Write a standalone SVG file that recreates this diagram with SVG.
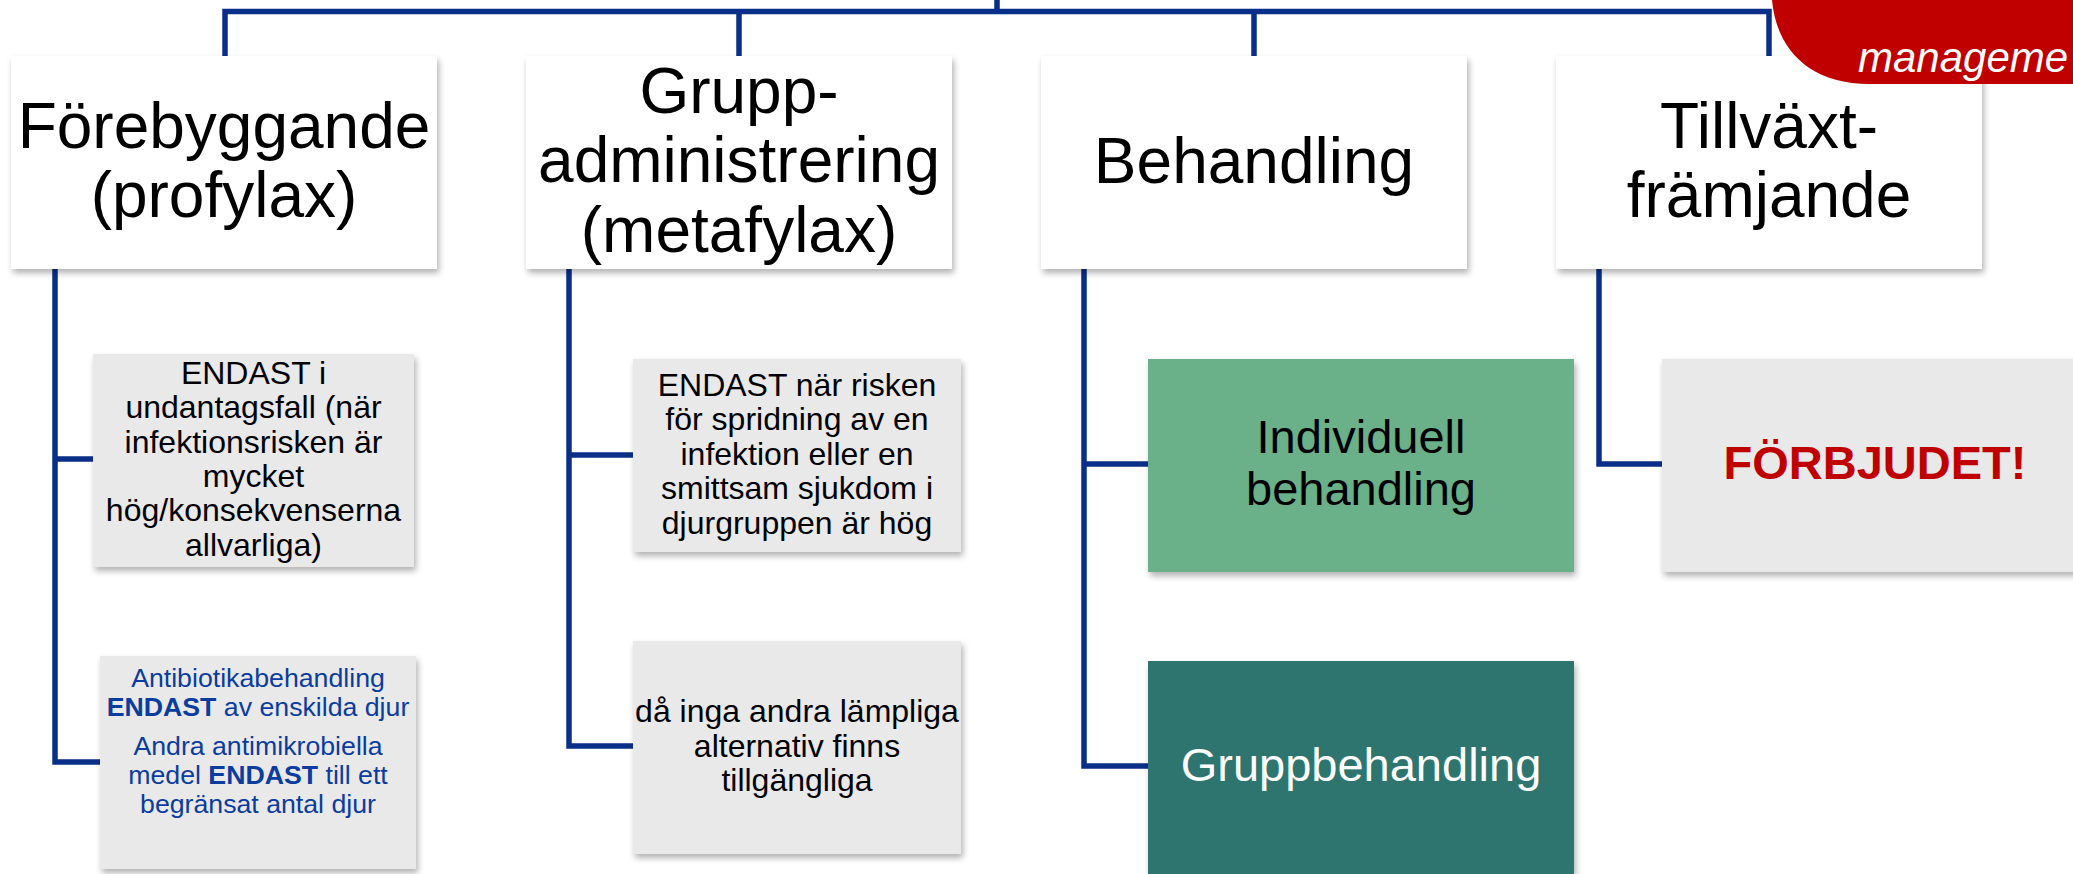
<svg xmlns="http://www.w3.org/2000/svg" width="2073" height="874" viewBox="0 0 2073 874">
<defs>
<filter id="sh" x="-5%" y="-5%" width="115%" height="120%">
<feDropShadow dx="2" dy="4" stdDeviation="3" flood-color="#000" flood-opacity="0.3"/>
</filter>
<style>
.ln{fill:none;stroke:#0a2f88;stroke-width:5.5;stroke-linecap:square}
.top{fill:#ffffff;filter:url(#sh)}
.gray{fill:#e9e9e9;filter:url(#sh)}
.t64{font-family:"Liberation Sans",Arial,sans-serif;font-size:64px;fill:#000;text-anchor:middle}
.t32{font-family:"Liberation Sans",Arial,sans-serif;font-size:32px;fill:#000;text-anchor:middle}
.t27{font-family:"Liberation Sans",Arial,sans-serif;font-size:26.7px;fill:#0b3c9f;text-anchor:middle}
.t47{font-family:"Liberation Sans",Arial,sans-serif;font-size:47px;text-anchor:middle}
</style>
</defs>
<rect width="2073" height="874" fill="#ffffff"/>
<g id="connectors">
<path class="ln" d="M997,0 V11.5 M225,40 V11.5 H1769 V56 M739,11.5 V56 M1254,11.5 V56 M225,11.5 V56"/>
<path class="ln" d="M55,269 V762 H100 M55,459 H93"/>
<path class="ln" d="M569,269 V746 H633 M569,455 H633"/>
<path class="ln" d="M1084,269 V766 H1148 M1084,464 H1148"/>
<path class="ln" d="M1599,269 V464 H1662"/>
</g>
<g id="n-forebyggande">
<rect class="top" x="11" y="56" width="426" height="213"/>
<text class="t64" x="224" y="148">Förebyggande</text>
<text class="t64" x="224" y="217">(profylax)</text>
</g>
<g id="n-grupp">
<rect class="top" x="526" y="56" width="426" height="213"/>
<text class="t64" x="739" y="113">Grupp-</text>
<text class="t64" x="739" y="182">administrering</text>
<text class="t64" x="739" y="252">(metafylax)</text>
</g>
<g id="n-behandling">
<rect class="top" x="1041" y="56" width="426" height="213"/>
<text class="t64" x="1254" y="183">Behandling</text>
</g>
<g id="n-tillvaxt">
<rect class="top" x="1556" y="56" width="426" height="213"/>
<text class="t64" x="1769" y="148">Tillväxt-</text>
<text class="t64" x="1769" y="217">främjande</text>
</g>
<g id="n-endast-undantag">
<rect class="gray" x="93" y="354" width="321" height="213"/>
<text class="t32" x="253.5" y="384">ENDAST i</text>
<text class="t32" x="253.5" y="418.3">undantagsfall (när</text>
<text class="t32" x="253.5" y="452.6">infektionsrisken är</text>
<text class="t32" x="253.5" y="486.9">mycket</text>
<text class="t32" x="253.5" y="521.2">hög/konsekvenserna</text>
<text class="t32" x="253.5" y="555.5">allvarliga)</text>
</g>
<g id="n-antibiotika">
<rect class="gray" x="100" y="656" width="316" height="213"/>
<text class="t27" x="258" y="687">Antibiotikabehandling</text>
<text class="t27" x="258" y="716"><tspan font-weight="bold">ENDAST</tspan> av enskilda djur</text>
<text class="t27" x="258" y="755">Andra antimikrobiella</text>
<text class="t27" x="258" y="784">medel <tspan font-weight="bold">ENDAST</tspan> till ett</text>
<text class="t27" x="258" y="813">begränsat antal djur</text>
</g>
<g id="n-endast-risken">
<rect class="gray" x="633" y="359" width="328" height="193"/>
<text class="t32" x="797" y="396">ENDAST när risken</text>
<text class="t32" x="797" y="430.4">för spridning av en</text>
<text class="t32" x="797" y="464.8">infektion eller en</text>
<text class="t32" x="797" y="499.2">smittsam sjukdom i</text>
<text class="t32" x="797" y="533.6">djurgruppen är hög</text>
</g>
<g id="n-da-inga">
<rect class="gray" x="633" y="641" width="328" height="213"/>
<text class="t32" x="797" y="722">då inga andra lämpliga</text>
<text class="t32" x="797" y="756.5">alternativ finns</text>
<text class="t32" x="797" y="791">tillgängliga</text>
</g>
<g id="n-individuell">
<rect x="1148" y="359" width="426" height="213" fill="#6bb088" filter="url(#sh)"/>
<text class="t47" x="1361" y="453" fill="#000">Individuell</text>
<text class="t47" x="1361" y="505" fill="#000">behandling</text>
</g>
<g id="n-gruppbehandling">
<rect x="1148" y="661" width="426" height="213" fill="#2d746f" filter="url(#sh)"/>
<text class="t47" x="1361" y="781" fill="#ffffff">Gruppbehandling</text>
</g>
<g id="n-forbjudet">
<rect class="gray" x="1662" y="359" width="426" height="213"/>
<text class="t47" x="1875" y="479" fill="#c00000" font-weight="bold">FÖRBJUDET!</text>
</g>
<g id="corner">
<path d="M1772,0 C1776,45 1805,84 1870,84 L2073,84 L2073,0 Z" fill="#c00000"/>
<text x="1858" y="72" font-family="Liberation Sans,Arial,sans-serif" font-size="42" font-style="italic" fill="#ffffff">manageme</text>
</g>
</svg>
